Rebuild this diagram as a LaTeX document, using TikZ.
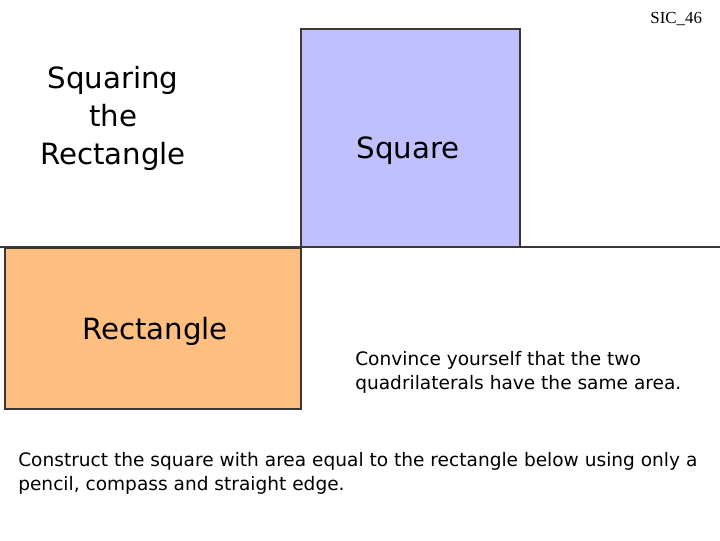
\documentclass[tikz,border=0pt]{standalone}
\usepackage{fontspec}
\setmainfont{DejaVu Sans}
\newfontfamily\serifnum{Liberation Serif}
\definecolor{rectorange}{RGB}{255,191,128}
\definecolor{squareblue}{RGB}{192,192,255}
\definecolor{edgegray}{RGB}{60,55,50}

\begin{document}
\begin{tikzpicture}[
		x=0.025cm, y=-0.025cm,
		areabox/.style={draw=edgegray, line width=0.9pt},
		bigtext/.style={font=\fontsize{20.8}{27}\selectfont, align=center},
		note/.style={font=\fontsize{13.2}{17}\selectfont, align=left, anchor=north west, inner sep=0pt}
	]
		\useasboundingbox (0,0) rectangle (720,540);

		% Shapes
		\filldraw[areabox, fill=rectorange] (5,248) rectangle (301,409);
		\filldraw[areabox, fill=squareblue] (301,29) rectangle (520,247);
		\coordinate (lineL) at (0,247);
		\coordinate (lineR) at (720,247);
		\draw[edgegray, line width=0.9pt] (lineL) -- (lineR);

		% Labels
		\node[bigtext] (title) at (113,118) {Squaring\\the\\Rectangle};
		\node[bigtext] (sq) at (408,151) {Square};
		\node[bigtext] (rect) at (155,331) {Rectangle};
		\node[note] (convince) at (355,351) {Convince yourself that the two\\quadrilaterals have the same area.};
		\node[note] (task) at (18,452) {Construct the square with area equal to the rectangle below using only a\\pencil, compass and straight edge.};
		\node[font=\serifnum\fontsize{12}{14}\selectfont, anchor=east] (tag) at (707,19) {SIC\_46};
	\end{tikzpicture}
\end{document}
